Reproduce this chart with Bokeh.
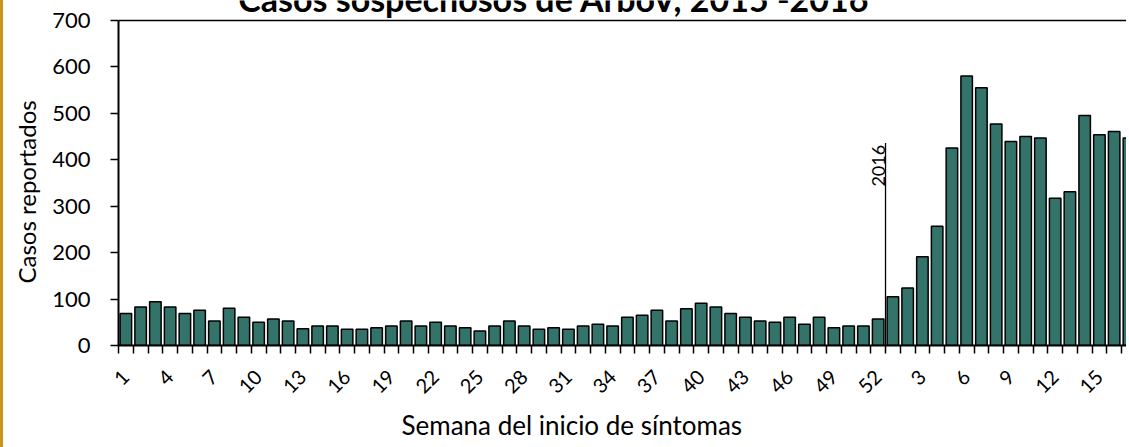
import math
from bokeh.plotting import figure
from bokeh.models import (Range1d, FixedTicker, Label, Span, Title, ColumnDataSource)
from bokeh.core.properties import value
from bokeh.embed import file_html
from bokeh.resources import INLINE

# ---- data ----
weeks_2015 = list(range(1, 53))
weeks_2016 = list(range(1, 18))
cases_2015 = [69, 83, 94, 83, 69, 76, 53, 80, 61, 50, 57, 53, 36, 42, 42, 35, 35, 38, 42, 53,
              42, 50, 42, 38, 31, 42, 53, 42, 35, 38, 35, 42, 46, 42, 61, 65, 76, 53, 79, 91,
              83, 69, 61, 53, 50, 61, 46, 61, 38, 42, 42, 57]
cases_2016 = [105, 124, 191, 257, 425, 580, 555, 477, 439, 450, 447, 317, 331, 495, 454, 461, 447]
title_text = "Casos sospechosos de ArboV,  2015 -2016"
y_label = "Casos reportados"
x_label = "Semana del inicio de síntomas"
year_mark = "2016"
y_ticks = [0, 100, 200, 300, 400, 500, 600, 700]
y_max = 700

weeks = weeks_2015 + weeks_2016
cases = cases_2015 + cases_2016
pos = list(range(1, len(weeks) + 1))

FONT = "Lato"
BAR = "#33736A"

p = figure(width=1126, height=447, output_backend="svg", toolbar_location=None,
           x_range=Range1d(0.5, 69.04), y_range=Range1d(0, 742.8),
           min_border_left=115, min_border_right=0, min_border_top=0, min_border_bottom=100)
p.styles = {"border-left": "3px solid #C9941E"}
p.outline_line_color = None
p.grid.grid_line_color = None
p.background_fill_color = "white"
p.border_fill_color = "white"

src = ColumnDataSource(dict(x=pos, top=cases))
p.vbar(x="x", top="top", width=0.78, source=src, fill_color=BAR, line_color="black", line_width=1.5)

# top border line of the plot area
p.add_layout(Span(location=y_max, dimension="width", line_color="black", line_width=1.5))

# year separator
sep_x = len(weeks_2015) + 0.5
p.segment(x0=[sep_x], y0=[0], x1=[sep_x], y1=[436], line_color="black", line_width=1.3)
p.add_layout(Label(x=sep_x, y=432, text=year_mark, angle=math.pi / 2, text_align="right",
                   text_baseline="bottom", x_offset=-1, text_font=FONT,
                   text_font_size="18px", text_color="black"))

# title (partially cut at the top)
p.text(x=[30.3], y=[747], text=[title_text], text_align="center", text_baseline="alphabetic",
       text_font=value(FONT), text_font_style="bold", text_font_size="34px", text_color="black")

# x axis
xa = p.xaxis[0]
label_pos = pos[::3]
xa.ticker = FixedTicker(ticks=label_pos, minor_ticks=[i + 0.5 for i in range(0, len(pos) + 1)])
xa.major_label_overrides = {pp: str(weeks[pp - 1]) for pp in label_pos}
xa.major_label_orientation = math.pi / 4
xa.major_tick_out = 0
xa.major_tick_in = 0
xa.minor_tick_out = 8
xa.minor_tick_in = 0
xa.minor_tick_line_color = "black"
xa.minor_tick_line_width = 1.5
xa.axis_line_color = "black"
xa.axis_line_width = 2
xa.major_label_text_font = FONT
xa.major_label_text_font_size = "20px"
xa.major_label_text_color = "black"
xa.major_label_standoff = 20

# y axis
ya = p.yaxis[0]
ya.ticker = FixedTicker(ticks=y_ticks)
ya.bounds = (0, y_max)
ya.major_tick_out = 8
ya.major_tick_in = 0
ya.minor_tick_out = 0
ya.minor_tick_in = 0
ya.major_tick_line_color = "black"
ya.major_tick_line_width = 1.5
ya.axis_line_color = "black"
ya.axis_line_width = 2
ya.major_label_text_font = FONT
ya.major_label_text_font_size = "22px"
ya.major_label_text_color = "black"
ya.major_label_standoff = 20

# axis titles (as titles, to control their position along the axis)
p.add_layout(Title(text=x_label, align="left", offset=283, vertical_align="middle", standoff=11,
                   text_font=FONT, text_font_size="26px", text_font_style="normal",
                   text_color="black"), "below")
p.add_layout(Title(text=y_label, align="left", offset=62, vertical_align="middle", standoff=15,
                   text_font=FONT, text_font_size="24px", text_font_style="normal",
                   text_color="black"), "left")

open("out.html", "w").write(file_html(p, INLINE))
